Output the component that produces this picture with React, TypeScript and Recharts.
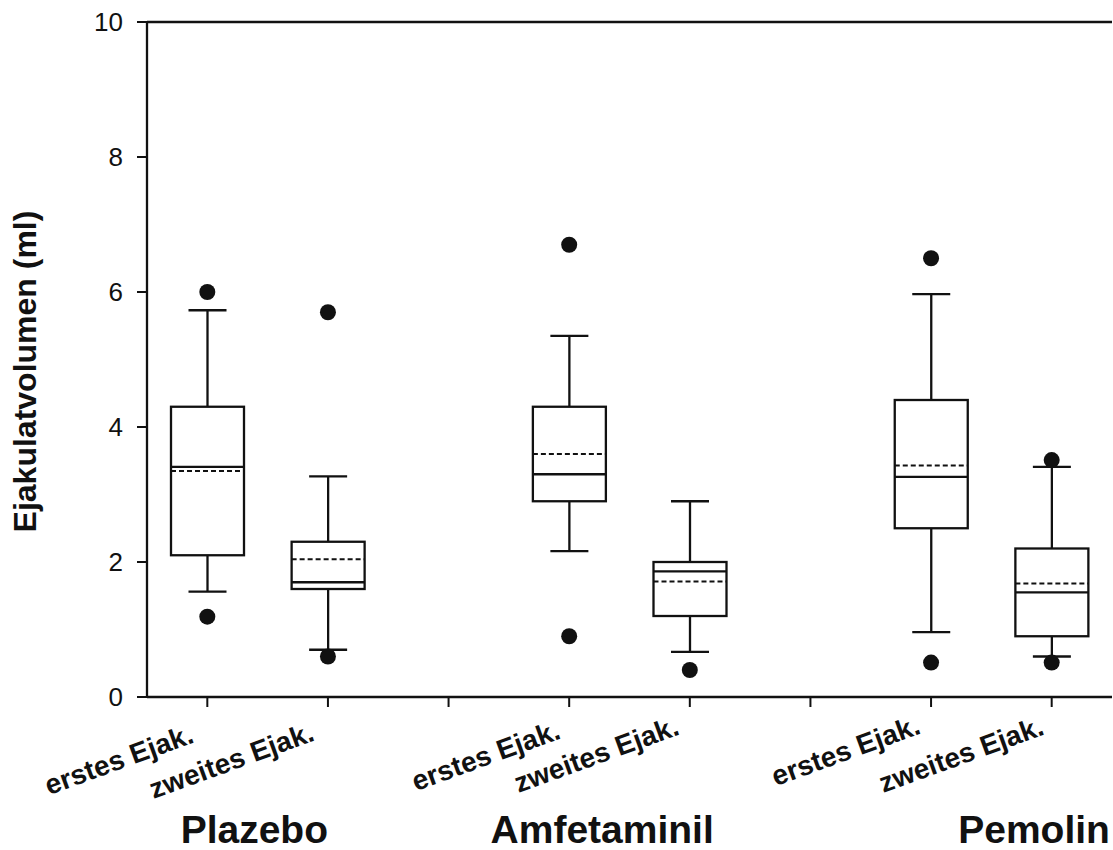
import React from 'react'
import { ComposedChart, Bar, Scatter, XAxis, YAxis, ReferenceLine, Label } from 'recharts'

// categories on the x axis (two empty slots separate the groups)
const categories = ['p1', 'p2', 'gap1', 'a1', 'a2', 'gap2', 'm1', 'm2']
const tickLabels = ['erstes Ejak.', 'zweites Ejak.', '', 'erstes Ejak.', 'zweites Ejak.', '', 'erstes Ejak.', 'zweites Ejak.']
const groupLabels = ['Plazebo', 'Amfetaminil', 'Pemolin']
const yTicks = [0, 2, 4, 6, 8, 10]

// box statistics (ml)
const whiskerLow = [1.56, 0.7, null, 2.16, 0.67, null, 0.96, 0.6]
const q1 = [2.1, 1.6, null, 2.9, 1.2, null, 2.5, 0.9]
const median = [3.41, 1.7, null, 3.3, 1.86, null, 3.26, 1.55]
const mean = [3.35, 2.04, null, 3.6, 1.71, null, 3.43, 1.68]
const q3 = [4.3, 2.3, null, 4.3, 2.0, null, 4.4, 2.2]
const whiskerHigh = [5.73, 3.27, null, 5.35, 2.9, null, 5.97, 3.41]

// outliers
const outlierCat = ['p1', 'p1', 'p2', 'p2', 'a1', 'a1', 'a2', 'm1', 'm1', 'm2', 'm2']
const outlierVal = [6.0, 1.19, 5.7, 0.6, 6.7, 0.9, 0.4, 6.5, 0.51, 3.51, 0.51]

// label placement tweaks (layout only)
const labelDx = [-12, -12, 0, -7, -9, 0, -9, -6]
const labelDy = [35, 33, 0, 31, 27, 0, 26, 27]
const groupDx = [47, 33, 103]

const FONT = '"Liberation Sans", Arial, Helvetica, sans-serif'

const rows = categories.map((id, i) => ({
  id,
  lo: whiskerLow[i],
  q1: q1[i],
  med: median[i],
  mean: mean[i],
  q3: q3[i],
  hi: whiskerHigh[i],
}))

const outliers = outlierCat.map((id, i) => ({ id, v: outlierVal[i] }))

function BoxShape(props: any) {
  const { x, y, width, height, payload } = props
  if (payload == null || payload.q1 == null || !height) return null
  const { lo, hi } = payload
  const py = (v: number) => y + (height * (hi - v)) / (hi - lo)
  const cx = x + width / 2
  const cap = 19
  const s = { stroke: '#111', strokeWidth: 2.3 }
  return (
    <g>
      <line x1={cx} x2={cx} y1={py(hi)} y2={py(lo)} {...s} />
      <line x1={cx - cap} x2={cx + cap} y1={py(hi)} y2={py(hi)} {...s} />
      <line x1={cx - cap} x2={cx + cap} y1={py(lo)} y2={py(lo)} {...s} />
      <rect x={x} y={py(payload.q3)} width={width} height={py(payload.q1) - py(payload.q3)} fill="#fff" {...s} />
      <line x1={x} x2={x + width} y1={py(payload.med)} y2={py(payload.med)} {...s} />
      <line x1={x} x2={x + width} y1={py(payload.mean)} y2={py(payload.mean)} stroke="#111" strokeWidth={2} strokeDasharray="5 3" />
    </g>
  )
}

function XTick(props: any) {
  const { x, y, payload } = props
  const i = categories.indexOf(payload.value)
  if (i < 0) return null
  const label = tickLabels[i]
  const g = [0, 3, 6].indexOf(i)
  const tx = x + labelDx[i]
  const ty = y + labelDy[i]
  return (
    <g>
      {label && (
        <text x={tx} y={ty} textAnchor="end" transform={`rotate(-20, ${tx}, ${ty})`} fontFamily={FONT} fontWeight="bold" fontSize={28} fill="#111">
          {label}
        </text>
      )}
      {g >= 0 && (
        <text x={x + groupDx[g]} y={y + 136} textAnchor="middle" fontFamily={FONT} fontWeight="bold" fontSize={39} fill="#111">
          {groupLabels[g]}
        </text>
      )}
    </g>
  )
}

function YLabel(props: any) {
  const vb = props.viewBox
  const lx = 36
  const ly = vb.y + vb.height / 2 + 12
  return (
    <text x={lx} y={ly} textAnchor="middle" transform={`rotate(-90, ${lx}, ${ly})`} fontFamily={FONT} fontWeight="bold" fontSize={32} fill="#111">
      Ejakulatvolumen (ml)
    </text>
  )
}

export default function App() {
  return (
    <div style={{ position: 'fixed', left: 0, top: 0, width: 1113, height: 850, background: '#fff' }}>
      <ComposedChart width={1113} height={850} data={rows} margin={{ top: 22, right: 1, bottom: 0, left: 8 }}>
        <XAxis
          dataKey="id"
          type="category"
          allowDuplicatedCategory={false}
          height={153}
          interval={0}
          tickSize={10}
          tickMargin={0}
          tick={<XTick />}
          axisLine={{ stroke: '#111', strokeWidth: 2.3 }}
          tickLine={{ stroke: '#111', strokeWidth: 2 }}
        />
        <YAxis
          type="number"
          domain={[0, 10]}
          ticks={yTicks}
          width={139}
          tickSize={10}
          tickMargin={14}
          tick={{ fontSize: 26, fill: '#111', fontFamily: FONT }}
          axisLine={{ stroke: '#111', strokeWidth: 2.3 }}
          tickLine={{ stroke: '#111', strokeWidth: 2 }}
        >
          <Label content={<YLabel />} />
        </YAxis>
        <YAxis
          yAxisId="frame"
          orientation="right"
          width={0}
          domain={[0, 10]}
          tick={false}
          tickLine={false}
          axisLine={{ stroke: '#bbb', strokeWidth: 1.5 }}
        />
        <ReferenceLine y={10} stroke="#111" strokeWidth={2.3} />
        <Bar dataKey={(d: any) => (d.lo == null ? null : [d.lo, d.hi])} barSize={73} shape={<BoxShape />} isAnimationActive={false} />
        <Scatter
          data={outliers}
          dataKey="v"
          isAnimationActive={false}
          shape={(p: any) => <circle cx={p.cx} cy={p.cy} r={8} fill="#111" />}
        />
      </ComposedChart>
    </div>
  )
}
